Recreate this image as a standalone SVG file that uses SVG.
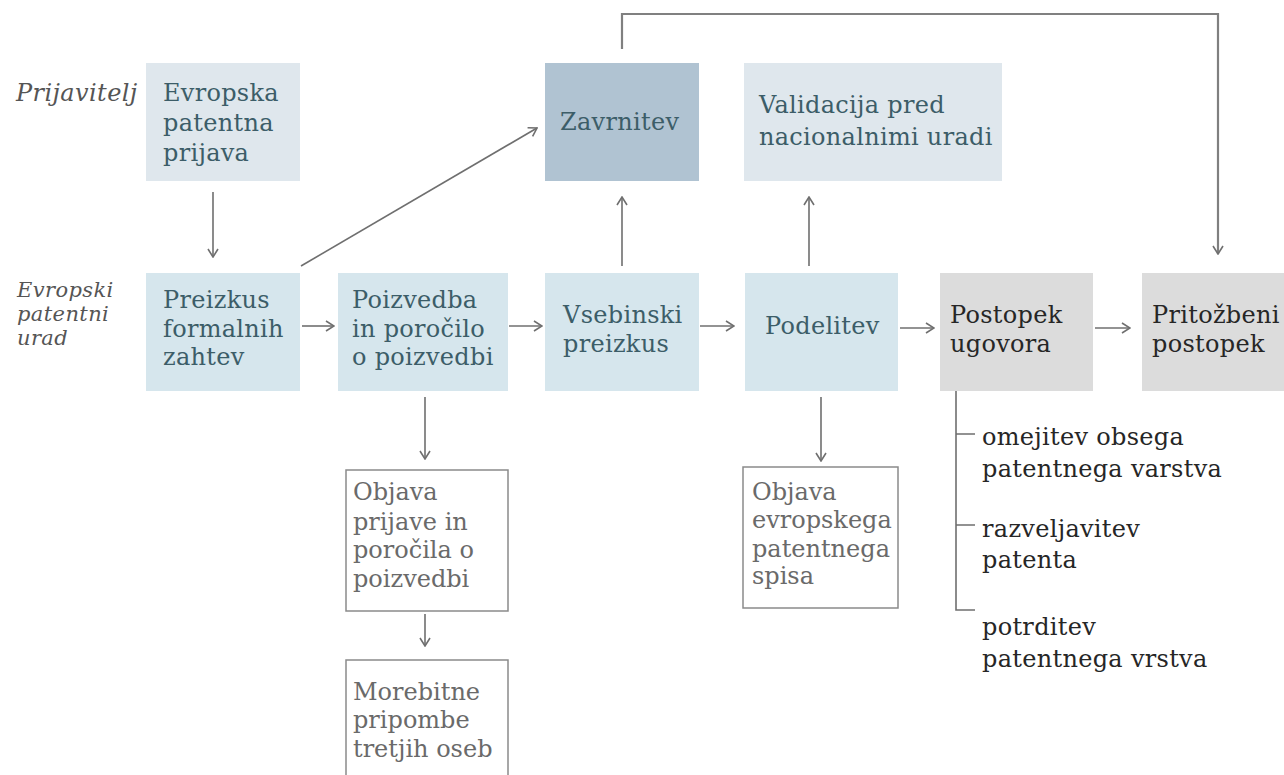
<svg xmlns="http://www.w3.org/2000/svg" width="1284" height="775" viewBox="0 0 1284 775">
<style>
text{font-family:"DejaVu Serif","Liberation Serif",serif;font-size:24px;letter-spacing:0.3px}
.t{fill:#3c5d68}
.k{fill:#262626}
.g{fill:#6a6a6a;letter-spacing:0}
.lab{font-style:italic;fill:#555;font-size:21px;letter-spacing:0.4px}
.b1{fill:#d6e6ed}
.b0{fill:#dfe7ed}
.bz{fill:#b0c3d2}
.bg{fill:#dcdcdc}
.bo{fill:#fff;stroke:#8a8a8a;stroke-width:1.5}
.c{fill:none;stroke:#6f6f6f;stroke-width:1.6}
.c2{fill:none;stroke:#808080;stroke-width:2.2}
</style>
<defs>
<marker id="ah" markerUnits="userSpaceOnUse" viewBox="0 0 10 12" markerWidth="10" markerHeight="12" refX="9" refY="6" orient="auto">
<path d="M1,1 L9,6 L1,11" fill="none" stroke="#6f6f6f" stroke-width="1.6"/>
</marker>
</defs>
<rect width="1284" height="775" fill="#fff"/>
<g id="labels">
<text class="lab" x="16" y="101" style="font-size:24px">Prijavitelj</text>
<text class="lab" x="17" y="297">Evropski</text>
<text class="lab" x="17" y="321">patentni</text>
<text class="lab" x="17" y="345">urad</text>
</g>
<g id="connectors">
<line class="c" x1="213" y1="192" x2="213" y2="257" marker-end="url(#ah)"/>
<line class="c" x1="301" y1="266" x2="537" y2="128" marker-end="url(#ah)"/>
<line class="c" x1="302" y1="326" x2="334" y2="326" marker-end="url(#ah)"/>
<line class="c" x1="509" y1="326" x2="542" y2="326" marker-end="url(#ah)"/>
<line class="c" x1="700" y1="326" x2="734" y2="326" marker-end="url(#ah)"/>
<line class="c" x1="900" y1="328" x2="934" y2="328" marker-end="url(#ah)"/>
<line class="c" x1="1095" y1="328" x2="1130" y2="328" marker-end="url(#ah)"/>
<line class="c" x1="622" y1="266" x2="622" y2="197" marker-end="url(#ah)"/>
<line class="c" x1="809" y1="266" x2="809" y2="197" marker-end="url(#ah)"/>
<line class="c" x1="425" y1="397" x2="425" y2="459" marker-end="url(#ah)"/>
<line class="c" x1="425" y1="614" x2="425" y2="646" marker-end="url(#ah)"/>
<line class="c" x1="821" y1="397" x2="821" y2="461" marker-end="url(#ah)"/>
<path class="c2" d="M622,49 V14 H1218 V254" marker-end="url(#ah)"/>
<path class="c" d="M956,391 V610 H975 M956,434 H975 M956,525 H975"/>
</g>
<g id="n-evropska">
<rect class="b0" x="146" y="63" width="154" height="118"/>
<text class="t" x="163" y="101">Evropska</text>
<text class="t" x="163" y="131">patentna</text>
<text class="t" x="163" y="161">prijava</text>
</g>
<g id="n-zavrnitev">
<rect class="bz" x="545" y="63" width="154" height="118"/>
<text class="t" x="560" y="130">Zavrnitev</text>
</g>
<g id="n-validacija">
<rect class="b0" x="744" y="63" width="258" height="118"/>
<text class="t" x="759" y="113">Validacija pred</text>
<text class="t" x="759" y="145">nacionalnimi uradi</text>
</g>
<g id="n-preizkus">
<rect class="b1" x="146" y="273" width="154" height="118"/>
<text class="t" x="163" y="308">Preizkus</text>
<text class="t" x="163" y="337">formalnih</text>
<text class="t" x="163" y="365">zahtev</text>
</g>
<g id="n-poizvedba">
<rect class="b1" x="338" y="273" width="170" height="118"/>
<text class="t" x="352" y="308">Poizvedba</text>
<text class="t" x="352" y="337">in poročilo</text>
<text class="t" x="352" y="365">o poizvedbi</text>
</g>
<g id="n-vsebinski">
<rect class="b1" x="545" y="273" width="154" height="118"/>
<text class="t" x="563" y="323">Vsebinski</text>
<text class="t" x="563" y="352">preizkus</text>
</g>
<g id="n-podelitev">
<rect class="b1" x="745" y="273" width="153" height="118"/>
<text class="t" x="765" y="334">Podelitev</text>
</g>
<g id="n-postopek">
<rect class="bg" x="940" y="273" width="153" height="118"/>
<text class="k" x="950" y="323">Postopek</text>
<text class="k" x="950" y="352">ugovora</text>
</g>
<g id="n-pritozbeni">
<rect class="bg" x="1142" y="273" width="150" height="118"/>
<text class="k" x="1152" y="323">Pritožbeni</text>
<text class="k" x="1152" y="352">postopek</text>
</g>
<g id="n-objava1">
<rect class="bo" x="346" y="470" width="162" height="141"/>
<text class="g" x="353" y="500">Objava</text>
<text class="g" x="353" y="530">prijave in</text>
<text class="g" x="353" y="558">poročila o</text>
<text class="g" x="353" y="587">poizvedbi</text>
</g>
<g id="n-morebitne">
<rect class="bo" x="346" y="660" width="162" height="130"/>
<text class="g" x="353" y="700">Morebitne</text>
<text class="g" x="353" y="728">pripombe</text>
<text class="g" x="353" y="757">tretjih oseb</text>
</g>
<g id="n-objava2">
<rect class="bo" x="743" y="467" width="155" height="141"/>
<text class="g" x="752" y="500">Objava</text>
<text class="g" x="752" y="528">evropskega</text>
<text class="g" x="752" y="557">patentnega</text>
<text class="g" x="752" y="584">spisa</text>
</g>
<g id="n-ugovor-izidi">
<text class="k" x="982" y="445">omejitev obsega</text>
<text class="k" x="982" y="477">patentnega varstva</text>
<text class="k" x="982" y="537">razveljavitev</text>
<text class="k" x="982" y="568">patenta</text>
<text class="k" x="982" y="635">potrditev</text>
<text class="k" x="982" y="667">patentnega vrstva</text>
</g>
</svg>
